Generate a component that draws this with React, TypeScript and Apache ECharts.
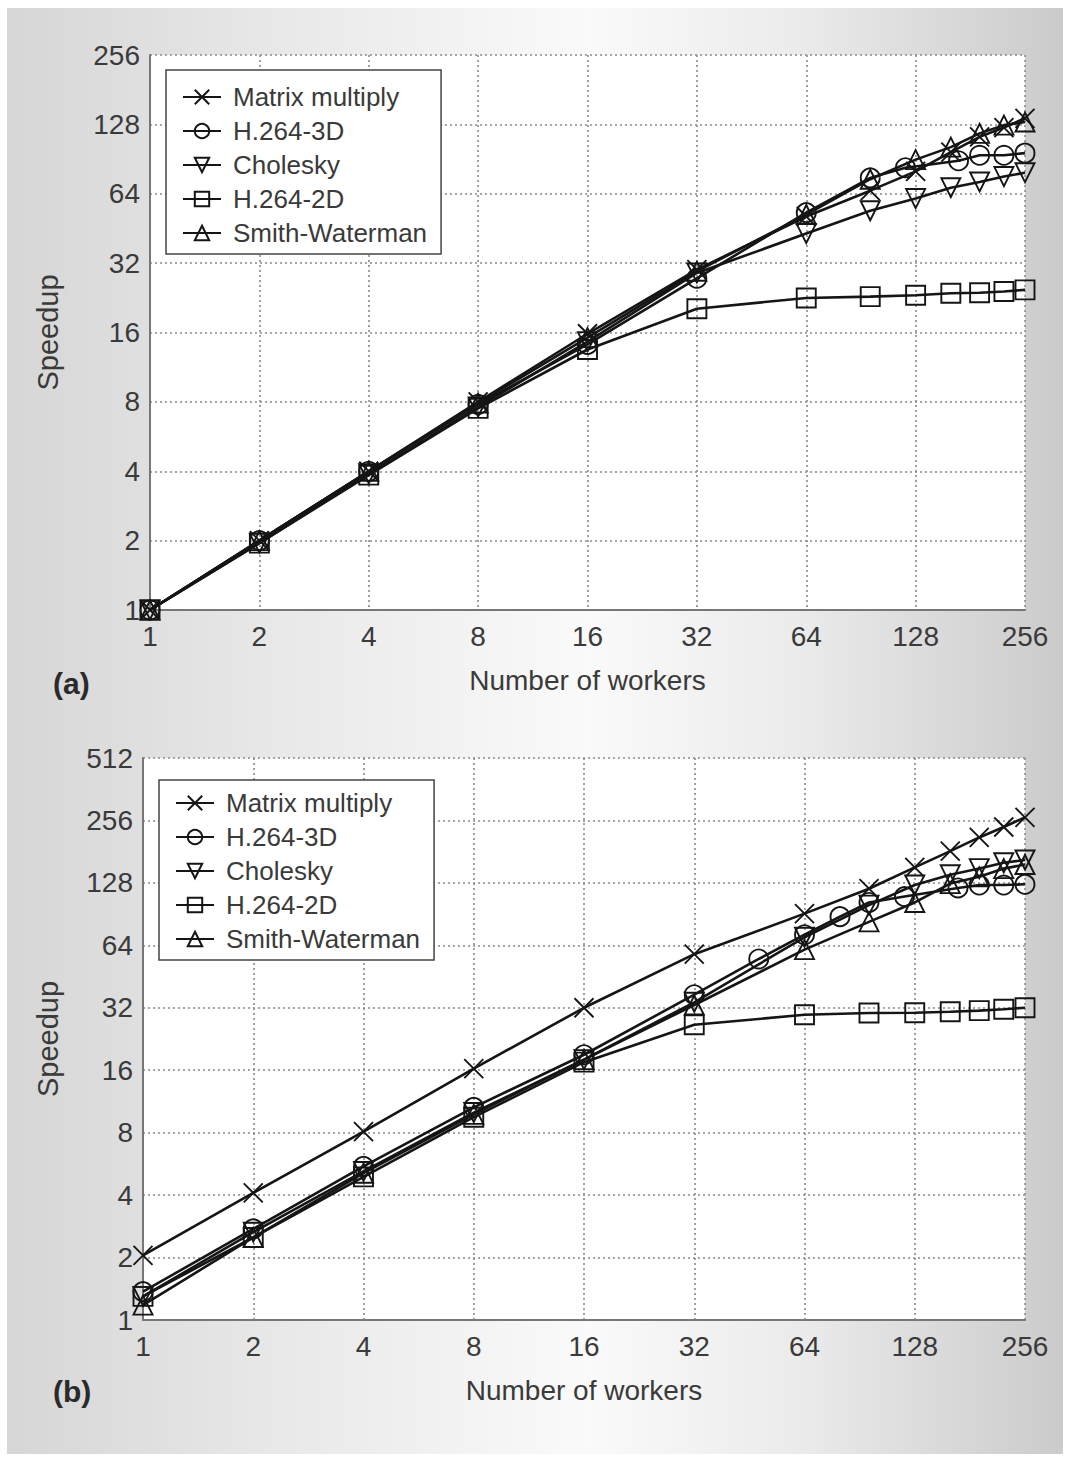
import React, { useEffect, useRef } from "react";
import * as echarts from "echarts";

// ---------- data ----------
const SERIES_NAMES = ["Matrix multiply", "H.264-3D", "Cholesky", "H.264-2D", "Smith-Waterman"];

const WORKERS = [1, 2, 4, 8, 16, 32, 64, 96, 128, 160, 192, 224, 256];
const WORKERS_3D_A = [1, 2, 4, 8, 16, 32, 64, 96, 120, 168, 192, 224, 256];
const WORKERS_3D_B = [1, 2, 4, 8, 16, 32, 48, 64, 80, 96, 120, 168, 192, 224, 256];

const A_MATRIX = [1, 2, 4, 8, 15.8, 30, 51, 66, 80, 97, 113, 124, 136];
const A_H264_3D = [1, 2, 4, 7.8, 14.2, 27.5, 53, 75, 83, 89, 94, 94, 96];
const A_CHOLESKY = [1, 1.95, 3.9, 7.6, 14.6, 29, 43, 54, 61, 68, 72, 76, 79];
const A_H264_2D = [1, 1.95, 3.85, 7.5, 13.5, 20.3, 22.6, 22.9, 23.2, 23.7, 23.8, 24.1, 24.5];
const A_SMITH = [1, 2, 4, 7.9, 15.2, 29.5, 52, 74, 90, 102, 117, 127, 131];

const B_MATRIX = [2.05, 4.1, 8.1, 16.3, 32, 58, 91, 120, 152, 182, 212, 238, 265];
const B_H264_3D = [1.37, 2.75, 5.5, 10.6, 19, 37, 55, 72, 88, 103, 110, 121, 125, 125, 126];
const B_CHOLESKY = [1.3, 2.65, 5.2, 10, 18, 34, 70, 100, 125, 140, 150, 160, 165];
const B_H264_2D = [1.3, 2.5, 4.9, 9.5, 17.5, 26.5, 29.6, 30.2, 30.3, 30.6, 31, 31.5, 32];
const B_SMITH = [1.18, 2.5, 5.1, 9.8, 18, 33, 61, 83, 103, 127, 137, 150, 157];

const PANEL_LABELS = ["(a)", "(b)"];
const X_NAME = "Number of workers";
const Y_NAME = "Speedup";

// ---------- style ----------
const FONT = "'Liberation Sans', Arial, sans-serif";
const TEXT = "#3a3a3a";
const LINE = "#151515";
const SYMBOLS = [
  "path://M0,0L10,10M10,0L0,10",
  "circle",
  "path://M0,0L10,0L5,8.66Z",
  "rect",
  "triangle",
];

function mkSeries(idx: number, xs: number[], ys: number[], g: number) {
  return {
    type: "line",
    name: SERIES_NAMES[idx],
    xAxisIndex: g,
    yAxisIndex: g,
    data: xs.map((x, i) => [x, ys[i]]),
    symbol: SYMBOLS[idx],
    symbolSize: 19,
    showAllSymbol: true,
    lineStyle: { color: LINE, width: 2.6 },
    itemStyle: { color: "rgba(0,0,0,0)", borderColor: LINE, borderWidth: 1.9 },
    emphasis: { disabled: true },
    silent: true,
  };
}

export default function App() {
  const ref = useRef<HTMLDivElement>(null);
  useEffect(() => {
    const chart = echarts.init(ref.current!, null, { renderer: "svg" });
    const grids = [
      { left: 150, top: 55, width: 875, height: 555 },
      { left: 143, top: 758, width: 882, height: 562 },
    ];
    const yMax = [256, 512];
    const yNameGap = [88, 81];
    const legendPos = [
      { left: 166, top: 70, padding: [14, 14, 8, 16] },
      { left: 159, top: 780, padding: [10, 14, 8, 16] },
    ];
    const labelY = [683, 1391];

    const option: any = {
      animation: false,
      graphic: {
        elements: [
          {
            type: "rect",
            z: -100,
            shape: { x: 7, y: 8, width: 1056, height: 1446 },
            style: {
              fill: {
                type: "linear",
                x: 0,
                y: 0,
                x2: 1,
                y2: 0,
                colorStops: [
                  { offset: 0, color: "#d6d6d6" },
                  { offset: 0.25, color: "#e8e8e8" },
                  { offset: 0.55, color: "#fafafa" },
                  { offset: 0.75, color: "#ebebeb" },
                  { offset: 1, color: "#cbcbcb" },
                ],
              },
            },
          },
          ...PANEL_LABELS.map((t, i) => ({
            type: "text",
            x: 53,
            y: labelY[i],
            style: {
              text: t,
              font: `bold 30px ${FONT}`,
              fill: "#2a2a2a",
              verticalAlign: "middle",
            },
          })),
        ],
      },
      grid: grids.map((g) => ({
        ...g,
        show: true,
        backgroundColor: "#ffffff",
        borderWidth: 0,
      })),
      legend: legendPos.map((p) => ({
        ...p,
        orient: "vertical",
        data: SERIES_NAMES,
        itemWidth: 38,
        itemHeight: 18,
        itemGap: 8,
        borderColor: "#444",
        borderWidth: 1.5,
        backgroundColor: "#ffffff",
        selectedMode: false,
        textStyle: { fontSize: 26, color: TEXT, fontFamily: FONT, padding: [0, 0, 0, 7] },
      })),
      xAxis: [0, 1].map((i) => ({
        type: "log",
        logBase: 2,
        min: 1,
        max: 256,
        gridIndex: i,
        name: X_NAME,
        nameLocation: "middle",
        nameGap: 56,
        nameTextStyle: { fontSize: 28, color: TEXT, fontFamily: FONT },
        axisLine: { show: true, onZero: false, lineStyle: { color: "#777", width: 2 } },
        axisTick: { show: false },
        axisLabel: { fontSize: 28, color: TEXT, fontFamily: FONT, margin: 12 },
        splitLine: { show: true, lineStyle: { type: [2, 3], color: "#8a8a8a", width: 1.6 } },
      })),
      yAxis: [0, 1].map((i) => ({
        type: "log",
        logBase: 2,
        min: 1,
        max: yMax[i],
        gridIndex: i,
        name: Y_NAME,
        nameLocation: "middle",
        nameGap: yNameGap[i],
        nameTextStyle: { fontSize: 29, color: TEXT, fontFamily: FONT },
        axisLine: { show: true, onZero: false, lineStyle: { color: "#777", width: 2 } },
        axisTick: { show: false },
        axisLabel: { fontSize: 28, color: TEXT, fontFamily: FONT, margin: 10 },
        splitLine: { show: true, lineStyle: { type: [2, 3], color: "#8a8a8a", width: 1.6 } },
      })),
      series: [
        mkSeries(0, WORKERS, A_MATRIX, 0),
        mkSeries(1, WORKERS_3D_A, A_H264_3D, 0),
        mkSeries(2, WORKERS, A_CHOLESKY, 0),
        mkSeries(3, WORKERS, A_H264_2D, 0),
        mkSeries(4, WORKERS, A_SMITH, 0),
        mkSeries(0, WORKERS, B_MATRIX, 1),
        mkSeries(1, WORKERS_3D_B, B_H264_3D, 1),
        mkSeries(2, WORKERS, B_CHOLESKY, 1),
        mkSeries(3, WORKERS, B_H264_2D, 1),
        mkSeries(4, WORKERS, B_SMITH, 1),
      ],
    };
    chart.setOption(option);
    return () => chart.dispose();
  }, []);
  return (
    <div
      ref={ref}
      style={{ position: "absolute", left: 0, top: 0, width: 1072, height: 1459 }}
    />
  );
}
